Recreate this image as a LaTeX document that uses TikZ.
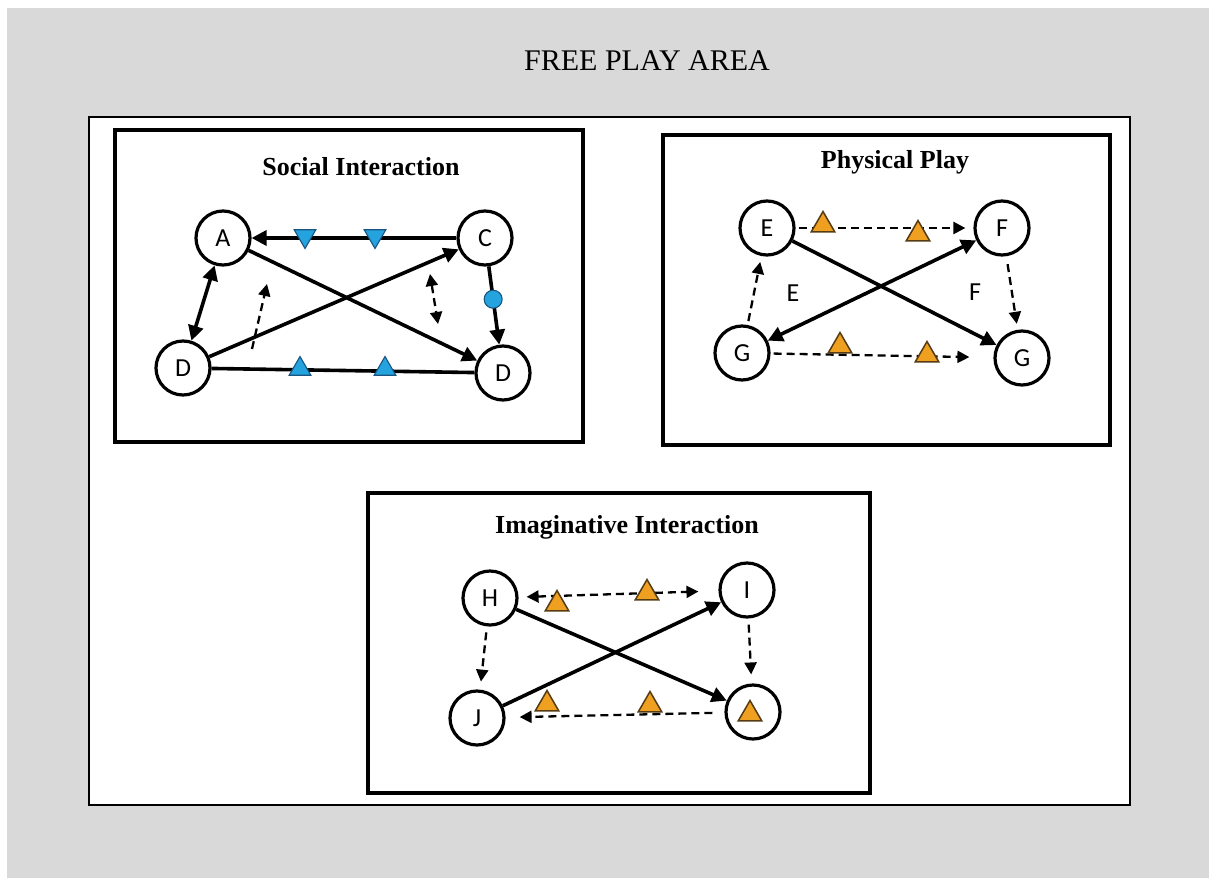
\documentclass[tikz,border=0pt]{standalone}
\usepackage{fontspec}
\setmainfont{Liberation Serif}
\newfontfamily\lettersans{Carlito}
\usetikzlibrary{arrows.meta,shapes.geometric}

\definecolor{areagray}{RGB}{217,217,217}
\definecolor{markblue}{RGB}{36,163,222}
\definecolor{markblueline}{RGB}{25,85,130}
\definecolor{markorange}{RGB}{240,160,32}
\definecolor{markorangeline}{RGB}{85,60,20}

\tikzset{
  x=1pt, y=-1pt,
  panel/.style={draw=black, line width=3.2pt, fill=white},
  areatitle/.style={font=\fontsize{30}{30}\selectfont},
  paneltitle/.style={font=\bfseries\fontsize{26}{26}\selectfont},
  kid/.style={circle, draw=black, line width=3.2pt, fill=white, minimum size=54pt,
    inner sep=0pt, font=\lettersans\fontsize{26}{26}\selectfont},
  looselabel/.style={font=\lettersans\fontsize{26}{26}\selectfont},
  solidlink/.style={draw=black, line width=3.6pt},
  tipend/.style={-{Triangle[length=15pt,width=15pt]}},
  tipboth/.style={{Triangle[length=15pt,width=15pt]}-{Triangle[length=15pt,width=15pt]}},
  dashlink/.style={draw=black, line width=2.3pt, dash pattern=on 8pt off 5pt},
  dtipend/.style={-{Triangle[length=12pt,width=12pt]}},
  dtipboth/.style={{Triangle[length=12pt,width=12pt]}-{Triangle[length=12pt,width=12pt]}},
  bluetri/.style={regular polygon, regular polygon sides=3, minimum size=25pt, inner sep=0pt,
    fill=markblue, draw=markblueline, line width=1.1pt},
  bluetridown/.style={bluetri, shape border rotate=180},
  bluedot/.style={circle, minimum size=18pt, inner sep=0pt, fill=markblue, draw=markblueline, line width=1.1pt},
  orangetri/.style={regular polygon, regular polygon sides=3, minimum size=27pt, inner sep=0pt,
    fill=markorange, draw=markorangeline, line width=1.5pt},
}

\begin{document}
\begin{tikzpicture}
  % page and grey play area
  \useasboundingbox (0,0) rectangle (1209,878);
  \fill[white] (0,0) rectangle (1209,878);
  \fill[areagray] (7,8) rectangle (1209,878);
  \node[areatitle] (areaname) at (647,61) {FREE PLAY AREA};

  % inner white field
  \draw[draw=black, line width=2.6pt, fill=white] (89,117) rectangle (1130,805);

  % ---------------- Social Interaction ----------------
  \draw[panel] (115,130) rectangle (583,442);
  \node[paneltitle] (soctitle) at (361,167) {Social Interaction};

  \node[kid] (A)  at (223,238) {A};
  \node[kid] (C)  at (485,238) {C};
  \node[kid] (D1) at (183,368) {D};
  \node[kid] (D2) at (503,373) {D};

  \draw[solidlink, tipend] (C) -- (A);
  \draw[solidlink, tipend] (A) -- (D2);
  \draw[solidlink, tipend] (D1) -- (C);
  \draw[solidlink, tipboth] (A) -- (D1);
  \draw[solidlink] (D1) -- (D2);
  \draw[solidlink, tipend] (C) -- node[bluedot, pos=0.42] (cdot) {} (D2);

  \node[bluetridown] (sa1) at (305,236) {};
  \node[bluetridown] (sa2) at (375,236) {};
  \node[bluetri] (sb1) at (300,369) {};
  \node[bluetri] (sb2) at (385,369) {};

  \coordinate (s1a) at (252,349);
  \coordinate (s1b) at (267,284);
  \draw[dashlink, dtipend] (s1a) -- (s1b);
  \coordinate (s2a) at (430,274);
  \coordinate (s2b) at (438,324);
  \draw[dashlink, dtipboth] (s2a) -- (s2b);

  % ---------------- Physical Play ----------------
  \draw[panel] (663,135) rectangle (1110,445);
  \node[paneltitle] (phytitle) at (895,162) {Physical Play};

  \node[kid] (E)  at (767,228) {E};
  \node[kid] (F)  at (1002,228) {F};
  \node[kid] (G1) at (742,353) {G};
  \node[kid] (G2) at (1022,358) {G};

  \node[looselabel] (elabel) at (793,293) {E};
  \node[looselabel] (flabel) at (975,292) {F};

  \draw[dashlink, dtipend, shorten <=3pt, shorten >=8pt] (E) -- (F);
  \draw[solidlink, tipend] (E) -- (G2);
  \draw[solidlink, tipboth] (G1) -- (F);
  \draw[dashlink, dtipend, shorten <=4pt, shorten >=6pt] (G1) -- (E);
  \draw[dashlink, dtipend, shorten <=8pt, shorten >=6pt] (F) -- (G2);
  \draw[dashlink, dtipend, shorten <=3pt, shorten >=24pt] (G1) -- (G2);

  \node[orangetri] (pa1) at (823,225) {};
  \node[orangetri] (pa2) at (918,234) {};
  \node[orangetri] (pb1) at (840,346) {};
  \node[orangetri] (pb2) at (927,355) {};

  % ---------------- Imaginative Interaction ----------------
  \draw[panel] (368,493) rectangle (870,793);
  \node[paneltitle] (imgtitle) at (627,527) {Imaginative Interaction};

  \node[kid] (H) at (490,598) {H};
  \node[kid] (I) at (747,590) {I};
  \node[kid] (J) at (477,718) {J};
  \node[kid] (K) at (753,712) {};

  \draw[dashlink, dtipboth, shorten <=8pt, shorten >=20pt] (H) -- (I);
  \draw[solidlink, tipend] (H) -- (K);
  \draw[solidlink, tipend] (J) -- (I);
  \draw[dashlink, dtipend, shorten <=6pt, shorten >=8pt] (H) -- (J);
  \draw[dashlink, dtipend, shorten <=6pt, shorten >=9pt] (I) -- (K);
  \draw[dashlink, dtipend, shorten <=12pt, shorten >=14pt] (K) -- (J);

  \node[orangetri] (ia1) at (557,604) {};
  \node[orangetri] (ia2) at (647,593) {};
  \node[orangetri] (ib1) at (547,704) {};
  \node[orangetri] (ib2) at (650,705) {};
  \node[orangetri] (ik)  at (750,714) {};
\end{tikzpicture}
\end{document}
